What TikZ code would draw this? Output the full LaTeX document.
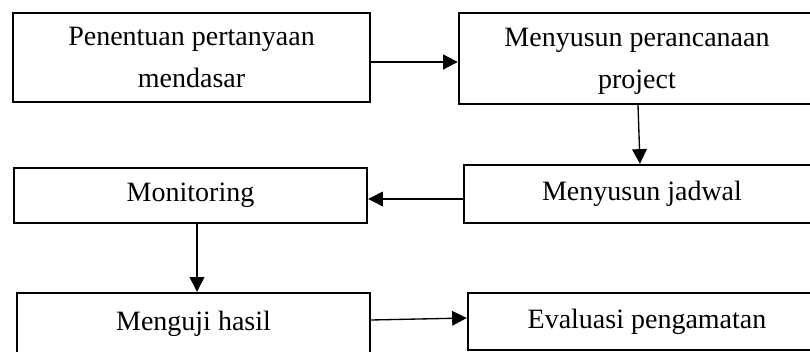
\documentclass[tikz,border=0pt]{standalone}
\usepackage{fontspec}
\setmainfont{Liberation Serif}
\usetikzlibrary{arrows.meta,calc}
\begin{document}
\begin{tikzpicture}[x=0.75pt,y=-0.75pt,
  box/.style={draw=black,line width=1.8pt,rectangle,inner sep=0pt,align=center,
    font=\fontsize{21pt}{31pt}\selectfont},
  arr/.style={draw=black,line width=1pt,-{Triangle[length=11pt,width=11pt]}},
  thickarr/.style={arr,line width=1.7pt}]
\useasboundingbox (0,0) rectangle (810,352);
\clip (0,0) rectangle (810,352);
\fill[white] (0,0) rectangle (810,352);
\node[box,minimum width=267.75pt,minimum height=66.75pt,text depth=0pt] (b1) at (191.5,57.5) {Penentuan pertanyaan\\mendasar};
\node[box,minimum width=267pt,minimum height=68.25pt,text depth=0pt] (b2) at (637,58.5) {Menyusun perancanaan\\project};
\node[box,minimum width=264.75pt,minimum height=41.25pt] (b3) at (190.5,195.5) {Monitoring};
\node[box,minimum width=267pt,minimum height=43.5pt] (b4) at (642,194) {Menyusun jadwal};
\node[box,minimum width=264.75pt,minimum height=45.75pt] (b5) at (193.5,323.5) {Menguji hasil};
\node[box,minimum width=268.5pt,minimum height=42.75pt] (b6) at (647,321.5) {Evaluasi pengamatan};
\draw[thickarr] (b1.east |- 0,62) -- (b2.west |- 0,62);
\draw[arr] ($(b2.south)+(1,0)$) -- ($(b4.north)+(-2,0)$);
\draw[arr] (b4.west |- 0,199) -- (b3.east |- 0,199);
\draw[arr] (b3.south -| 197,0) -- (b5.north -| 197,0);
\draw[arr] (b5.east |- 0,320) -- (b6.west |- 0,318);
\end{tikzpicture}
\end{document}
